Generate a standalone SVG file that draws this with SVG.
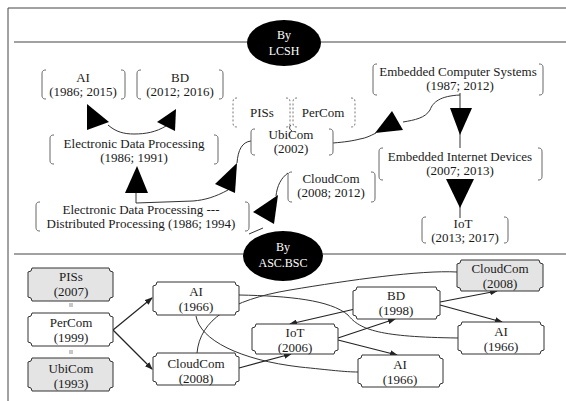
<svg xmlns="http://www.w3.org/2000/svg" width="566" height="401" viewBox="0 0 566 401" font-family="'Liberation Serif', 'DejaVu Serif', serif">
  <style>
    text { font-family: 'Liberation Serif', 'DejaVu Serif', serif; font-size: 13px; fill: #1a1a1a; text-anchor: middle; }
    .hdr text { fill: #fff; font-size: 12px; }
    .frame { stroke: #444; stroke-width: 1; fill: none; }
    .brk { stroke: #666; stroke-width: 1; fill: none; }
    .dash { stroke: #777; stroke-width: 1; fill: none; stroke-dasharray: 2 2; }
    .big { fill: #000; stroke: none; }
    .ln { stroke: #333; stroke-width: 1; fill: none; }
    .tick { stroke: #444; stroke-width: 0.6; fill: none; }
    .arr { stroke: #222; stroke-width: 1.2; fill: none; marker-end: url(#ah); }
    .tk { stroke: #333; stroke-width: 1; fill: #fff; }
    .tk.g { fill: #e4e4e4; }
  </style>
  <defs>
    <marker id="ah" markerWidth="8" markerHeight="6" refX="7" refY="3" orient="auto" markerUnits="userSpaceOnUse">
      <path d="M0,0 L8,3 L0,6 z" fill="#222"/>
    </marker>
  </defs>

  <rect width="566" height="401" fill="#fff"/>

  <!-- frame and section dividers -->
  <path class="frame" d="M8,401 L8,8 L566,8"/>
  <line class="frame" x1="14" y1="42" x2="566" y2="42"/>
  <line class="frame" x1="14" y1="254" x2="566" y2="254"/>

  <g class="hdr" id="hdr-lcsh">
    <ellipse cx="284" cy="43" rx="37" ry="23" fill="#000"/>
    <text x="284" y="39">By</text>
    <text x="284" y="55">LCSH</text>
  </g>
  <g class="hdr" id="hdr-asc">
    <ellipse cx="283" cy="256" rx="40" ry="25" fill="#000"/>
    <text x="283" y="251">By</text>
    <text x="283" y="267">ASC.BSC</text>
  </g>

  <!-- LCSH connectors -->
  <g id="lcsh-edges">
    <path class="ln" d="M108,125 C116,132 124,134 134,134 C146,134 156,132 166,126"/>
    <polygon class="big" points="87,104 87,130 109,122"/>
    <polygon class="big" points="176,109 175,131 157,122"/>
    <path class="ln" d="M136,193 L136,203 L193,201 C205,200 215,197 228,190"/>
    <polygon class="big" points="137,166 125,193 148,193"/>
    <polygon class="big" points="215,184 237,163 235,193"/>
    <path class="ln" d="M237,163 C238,150 242,142 251,141"/>
    <path class="ln" d="M249,234 L263,228"/>
    <polygon class="big" points="253,212 278,195 274,224"/>
    <path class="ln" d="M276,196 C277,186 281,178 288,173"/>
    <path class="ln" d="M333,143 C345,142 352,141 360,139 C366,138 370,136 376,133"/>
    <polygon class="big" points="392,111 375,133 403,130"/>
    <path class="ln" d="M403,122 C415,120 425,118 430,110 C433,102 440,96 460,95"/>
    <line class="ln" x1="460" y1="93" x2="460" y2="148"/>
    <polygon class="big" points="450,108 472,108 460,135"/>
    <line class="ln" x1="460" y1="180" x2="460" y2="218"/>
    <polygon class="big" points="446,179 474,179 460,208"/>
    <path class="ln" d="M291,125 C289,127 289,129 292,131"/>
  </g>

  <!-- LCSH nodes -->
  <g id="l-ai">
    <path class="brk" d="M46,70 C42,70 42,72 42,75 L42,94 C42,97 42,99 46,99 M121,70 C125,70 125,72 125,75 L125,94 C125,97 125,99 121,99"/>
    <text x="83" y="82">AI</text>
    <text x="83" y="96">(1986; 2015)</text>
  </g>
  <g id="l-bd">
    <path class="brk" d="M141,70 C137,70 137,72 137,75 L137,94 C137,97 137,99 141,99 M219,70 C223,70 223,72 223,75 L223,94 C223,97 223,99 219,99"/>
    <text x="180" y="82">BD</text>
    <text x="180" y="96">(2012; 2016)</text>
  </g>
  <g id="l-edp">
    <path class="brk" d="M54,135 C50,135 50,137 50,140 L50,159 C50,162 50,164 54,164 M214,135 C218,135 218,137 218,140 L218,159 C218,162 218,164 214,164"/>
    <text x="134" y="148">Electronic Data Processing</text>
    <text x="134" y="162">(1986; 1991)</text>
  </g>
  <g id="l-edpdp">
    <path class="brk" d="M40,202 C36,202 36,204 36,207 L36,226 C36,229 36,231 40,231 M245,202 C249,202 249,204 249,207 L249,226 C249,229 249,231 245,231"/>
    <text x="141" y="214">Electronic Data Processing ---</text>
    <text x="141" y="228">Distributed Processing (1986; 1994)</text>
  </g>
  <g id="l-pis">
    <path class="dash" d="M237,98 C233,98 233,100 233,103 L233,122 C233,125 233,127 237,127 M286,98 C290,98 290,100 290,103 L290,122 C290,125 290,127 286,127"/>
    <text x="262" y="117">PISs</text>
  </g>
  <g id="l-percom">
    <path class="dash" d="M297,98 C293,98 293,100 293,103 L293,122 C293,125 293,127 297,127 M351,98 C355,98 355,100 355,103 L355,122 C355,125 355,127 351,127"/>
    <text x="323" y="117">PerCom</text>
  </g>
  <g id="l-ubicom">
    <path class="brk" d="M255,129 C251,129 251,131 251,134 L251,150 C251,153 251,155 255,155 M329,129 C333,129 333,131 333,134 L333,150 C333,153 333,155 329,155"/>
    <text x="291" y="139">UbiCom</text>
    <text x="291" y="153">(2002)</text>
  </g>
  <g id="l-cloud">
    <path class="brk" d="M292,172 C288,172 288,174 288,177 L288,197 C288,200 288,202 292,202 M371,172 C375,172 375,174 375,177 L375,197 C375,200 375,202 371,202"/>
    <text x="331" y="183">CloudCom</text>
    <text x="331" y="197">(2008; 2012)</text>
  </g>
  <g id="l-ecs">
    <path class="brk" d="M377,64 C373,64 373,66 373,69 L373,90 C373,93 373,95 377,95 M539,64 C543,64 543,66 543,69 L543,90 C543,93 543,95 539,95"/>
    <text x="458" y="76">Embedded Computer Systems</text>
    <text x="460" y="90">(1987; 2012)</text>
  </g>
  <g id="l-eid">
    <path class="brk" d="M383,148 C379,148 379,150 379,153 L379,175 C379,178 379,180 383,180 M538,148 C542,148 542,150 542,153 L542,175 C542,178 542,180 538,180"/>
    <text x="460" y="161">Embedded Internet Devices</text>
    <text x="460" y="175">(2007; 2013)</text>
  </g>
  <g id="l-iot">
    <path class="brk" d="M426,217 C422,217 422,219 422,222 L422,238 C422,241 422,243 426,243 M504,217 C508,217 508,219 508,222 L508,238 C508,241 508,243 504,243"/>
    <text x="463" y="228">IoT</text>
    <text x="465" y="242">(2013; 2017)</text>
  </g>

  <!-- ASC.BSC connectors -->
  <g id="asc-edges">
    <path class="ln" d="M239,295 C290,296 330,300 348,315 C360,330 380,337 458,338"/>
    <path class="ln" d="M196,316 C200,340 240,360 300,367 C330,370 345,372 358,372"/>
    <path class="ln" d="M197,353 C200,320 230,300 290,290 C350,280 420,270 457,272"/>
    <path class="tick" d="M70,303 L70,307 M72,303 L72,307"/>
    <path class="tick" d="M70,350 L70,354 M72,350 L72,354"/>
    <path class="arr" d="M113,330 L152,298"/>
    <path class="arr" d="M113,330 L152,369"/>
    <path class="arr" d="M239,368 L291,354"/>
    <path class="arr" d="M338,338 L395,319"/>
    <path class="arr" d="M338,340 L397,355"/>
    <path class="arr" d="M355,309 L290,324"/>
    <path class="arr" d="M440,302 L497,291"/>
    <path class="arr" d="M440,305 L502,322"/>
  </g>

  <!-- ASC.BSC nodes -->
  <g id="a-pis">
    <path class="tk g" d="M32,268 L109,268 A4,4 0 0 0 113,272 L113,297 A4,4 0 0 0 109,301 L32,301 A4,4 0 0 0 28,297 L28,272 A4,4 0 0 0 32,268 Z"/>
    <text x="71" y="281">PISs</text>
    <text x="71" y="296">(2007)</text>
  </g>
  <g id="a-percom">
    <path class="tk" d="M32,313 L109,313 A4,4 0 0 0 113,317 L113,342 A4,4 0 0 0 109,346 L32,346 A4,4 0 0 0 28,342 L28,317 A4,4 0 0 0 32,313 Z"/>
    <text x="71" y="327">PerCom</text>
    <text x="71" y="342">(1999)</text>
  </g>
  <g id="a-ubicom">
    <path class="tk g" d="M32,358 L109,358 A4,4 0 0 0 113,362 L113,387 A4,4 0 0 0 109,391 L32,391 A4,4 0 0 0 28,387 L28,362 A4,4 0 0 0 32,358 Z"/>
    <text x="71" y="373">UbiCom</text>
    <text x="71" y="388">(1993)</text>
  </g>
  <g id="a-ai1">
    <path class="tk" d="M157,282 L235,282 A4,4 0 0 0 239,286 L239,311 A4,4 0 0 0 235,315 L157,315 A4,4 0 0 0 153,311 L153,286 A4,4 0 0 0 157,282 Z"/>
    <text x="196" y="296">AI</text>
    <text x="196" y="311">(1966)</text>
  </g>
  <g id="a-cloud1">
    <path class="tk" d="M157,353 L235,353 A4,4 0 0 0 239,357 L239,381 A4,4 0 0 0 235,385 L157,385 A4,4 0 0 0 153,381 L153,357 A4,4 0 0 0 157,353 Z"/>
    <text x="196" y="368">CloudCom</text>
    <text x="196" y="383">(2008)</text>
  </g>
  <g id="a-iot">
    <path class="tk" d="M256,324 L334,324 A4,4 0 0 0 338,328 L338,350 A4,4 0 0 0 334,354 L256,354 A4,4 0 0 0 252,350 L252,328 A4,4 0 0 0 256,324 Z"/>
    <text x="295" y="337">IoT</text>
    <text x="295" y="352">(2006)</text>
  </g>
  <g id="a-bd">
    <path class="tk" d="M357,287 L436,287 A4,4 0 0 0 440,291 L440,315 A4,4 0 0 0 436,319 L357,319 A4,4 0 0 0 353,315 L353,291 A4,4 0 0 0 357,287 Z"/>
    <text x="396" y="300">BD</text>
    <text x="396" y="315">(1998)</text>
  </g>
  <g id="a-ai2">
    <path class="tk" d="M362,355 L439,355 A4,4 0 0 0 443,359 L443,383 A4,4 0 0 0 439,387 L362,387 A4,4 0 0 0 358,383 L358,359 A4,4 0 0 0 362,355 Z"/>
    <text x="400" y="369">AI</text>
    <text x="400" y="384">(1966)</text>
  </g>
  <g id="a-cloud2">
    <path class="tk g" d="M461,260 L539,260 A4,4 0 0 0 543,264 L543,287 A4,4 0 0 0 539,291 L461,291 A4,4 0 0 0 457,287 L457,264 A4,4 0 0 0 461,260 Z"/>
    <text x="500" y="273">CloudCom</text>
    <text x="500" y="288">(2008)</text>
  </g>
  <g id="a-ai3">
    <path class="tk" d="M462,322 L540,322 A4,4 0 0 0 544,326 L544,350 A4,4 0 0 0 540,354 L462,354 A4,4 0 0 0 458,350 L458,326 A4,4 0 0 0 462,322 Z"/>
    <text x="501" y="336">AI</text>
    <text x="501" y="351">(1966)</text>
  </g>
</svg>
